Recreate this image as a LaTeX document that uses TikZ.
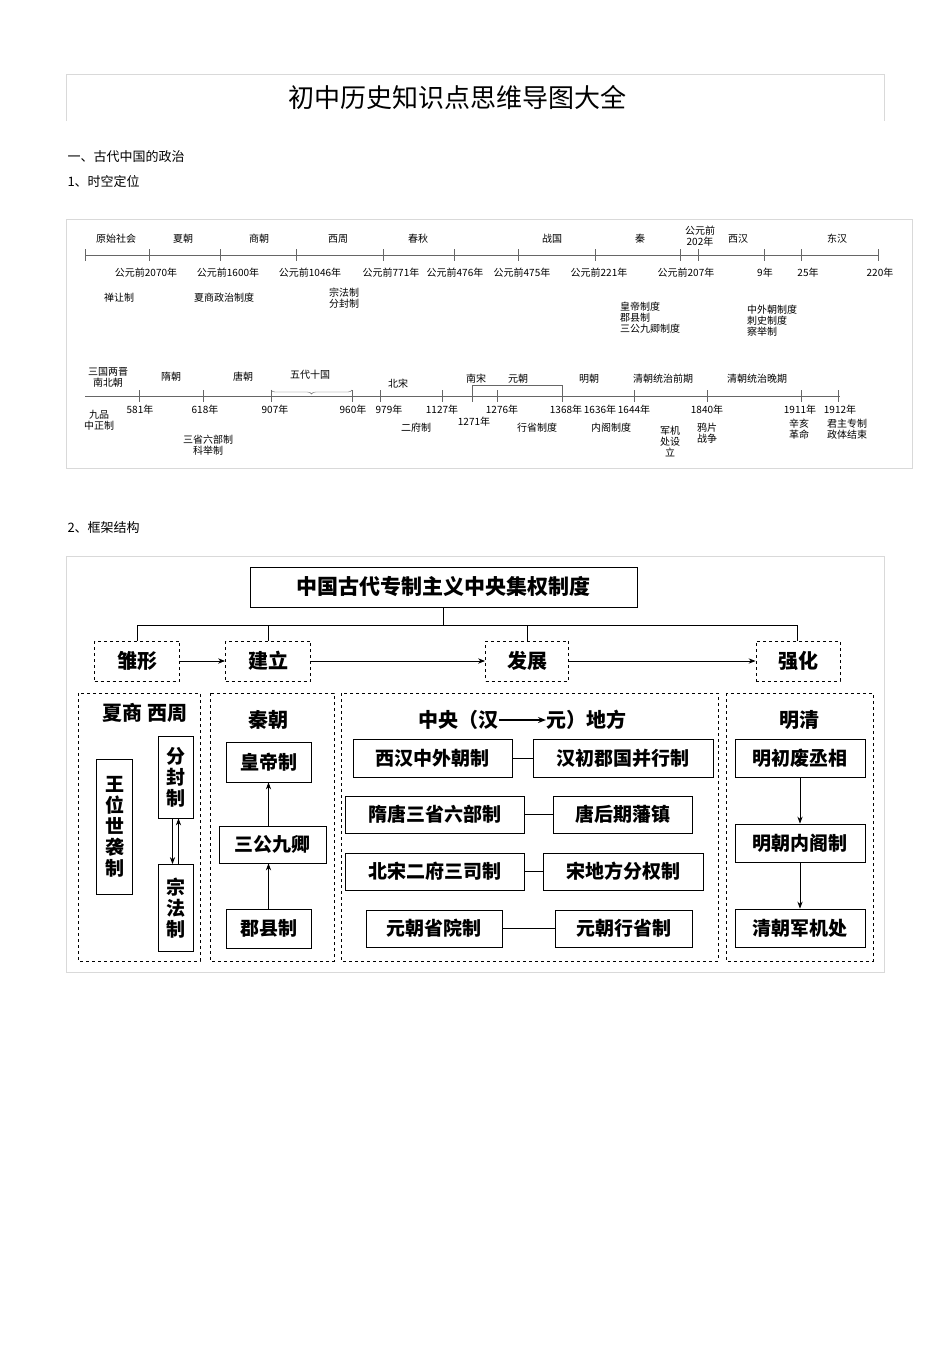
\documentclass[tikz,border=0pt]{standalone}
\usepackage{fontspec}
\setmainfont{Noto Sans CJK SC}
\usetikzlibrary{arrows.meta,decorations.pathreplacing}
\begin{document}
\begin{tikzpicture}[x=1pt,y=-1pt,
 tl/.style={font=\fontsize{10}{11}\selectfont,inner sep=0pt,align=center},
 tk/.style={draw=black!60},
 solidbox/.style={draw,thick,font=\fontsize{19}{21}\selectfont\bfseries,inner sep=2pt,align=center},
 dbox/.style={draw,thick,dashed},
 big/.style={font=\fontsize{20}{22}\selectfont\bfseries,inner sep=0pt},
 arr/.style={-{Stealth[length=7pt]},thick}]
\useasboundingbox (0,0) rectangle (950,1345);
\fill[white] (0,0) rectangle (950,1345);
% header
\draw[black!15] (66,121)--(66,74)--(884,74)--(884,121);
\node (title) at (457,97) {\fontsize{26}{28}\selectfont 初中历史知识点思维导图大全};
\node[anchor=west,font=\fontsize{13}{15}\selectfont] (s1) at (64,157) {一、古代中国的政治};
\node[anchor=west,font=\fontsize{13}{15}\selectfont] (s2) at (64,182) {1、时空定位};
\node[anchor=west,font=\fontsize{13}{15}\selectfont] (s3) at (64,528) {2、框架结构};
% timeline 1
\draw[black!15] (66,219) rectangle (912,468);
\draw[black!60] (85,255)--(878,255);
\foreach \x in {85,149,220,296,383,454,518,595,680,698,764,801,878}{\draw[tk] (\x,249)--(\x,261);}
\foreach \x/\t in {116/原始社会,183/夏朝,259/商朝,338/西周,418/春秋,552/战国,640/秦,738/西汉,837/东汉}{\node[tl] at (\x,239) {\t};}
\node[tl] at (700,236) {公元前\\202年};
\foreach \x/\t in {146/公元前2070年,228/公元前1600年,310/公元前1046年,391/公元前771年,455/公元前476年,522/公元前475年,599/公元前221年,686/公元前207年,765/9年,808/25年,880/220年}{\node[tl] at (\x,273) {\t};}
\node[tl] at (119,298) {禅让制};
\node[tl] at (224,298) {夏商政治制度};
\node[tl] at (344,298) {宗法制\\分封制};
\node[tl,align=left] at (650,318) {皇帝制度\\郡县制\\三公九卿制度};
\node[tl,align=left] at (772,321) {中外朝制度\\刺史制度\\察举制};
% timeline 2
\draw[black!60] (85,396)--(840,396);
\foreach \x in {139,203,271,352,380,442,472,497,562,634,707,801,838}{\draw[tk] (\x,390)--(\x,402);}
\draw[black!60,decorate,decoration={brace,amplitude=4pt}] (352,390)--(271,390);
\draw[black!60] (472,390)--(472,385)--(562,385)--(562,390);
\node[tl] at (108,377) {三国两晋\\南北朝};
\foreach \x/\t/\y in {171/隋朝/377,243/唐朝/377,310/五代十国/375,398/北宋/384,476/南宋/379,518/元朝/379,589/明朝/379,663/清朝统治前期/379,757/清朝统治晚期/379}{\node[tl] at (\x,\y) {\t};}
\foreach \x/\t in {140/581年,205/618年,275/907年,353/960年,389/979年,442/1127年,502/1276年,566/1368年,600/1636年,634/1644年,707/1840年,800/1911年,840/1912年}{\node[tl] at (\x,410) {\t};}
\node[tl] at (474,422) {1271年};
\node[tl] at (99,420) {九品\\中正制};
\node[tl] at (208,445) {三省六部制\\科举制};
\node[tl] at (416,428) {二府制};
\node[tl] at (537,428) {行省制度};
\node[tl] at (611,428) {内阁制度};
\node[tl] at (670,441) {军机\\处设\\立};
\node[tl] at (707,433) {鸦片\\战争};
\node[tl] at (799,429) {辛亥\\革命};
\node[tl] at (847,429) {君主专制\\政体结束};
% framework
\draw[black!15] (66,556) rectangle (884,972);
\node[draw,thick,minimum width=387pt,minimum height=40pt,font=\fontsize{21}{23}\selectfont\bfseries] (top) at (443.5,587) {中国古代专制主义中央集权制度};
\draw[thick] (top.south)--(443.5,625);
\draw[thick] (137,641)--(137,625)--(797,625)--(797,641);
\draw[thick] (268,625)--(268,641); \draw[thick] (527,625)--(527,641);
\node[dbox,big,minimum width=85pt,minimum height=40pt] (c1) at (137,661) {雏形};
\node[dbox,big,minimum width=85pt,minimum height=40pt] (c2) at (268,661) {建立};
\node[dbox,big,minimum width=83pt,minimum height=40pt] (c3) at (527,661) {发展};
\node[dbox,big,minimum width=84pt,minimum height=40pt] (c4) at (798,661) {强化};
\draw[arr] (c1)--(c2); \draw[arr] (c2)--(c3); \draw[arr] (c3)--(c4);
\draw[dbox] (78,693) rectangle (200,961);
\draw[dbox] (210,693) rectangle (334,961);
\draw[dbox] (341,693) rectangle (718,961);
\draw[dbox] (726,693) rectangle (873,961);
\node[big] at (145,713) {夏商\ 西周};
\node[solidbox,minimum width=36pt,minimum height=135pt] (wang) at (114.5,827) {王\\位\\世\\袭\\制};
\node[solidbox,minimum width=35pt,minimum height=82pt] (fen) at (175.5,777) {分\\封\\制};
\node[solidbox,minimum width=35pt,minimum height=87pt] (zong) at (175.5,908) {宗\\法\\制};
\draw[arr] ([xshift=-3pt]fen.south)--([xshift=-3pt]zong.north);
\draw[arr] ([xshift=3pt]zong.north)--([xshift=3pt]fen.south);
\node[big] at (268,720) {秦朝};
\node[solidbox,minimum width=85pt,minimum height=40pt] (hd) at (268.5,762) {皇帝制};
\node[solidbox,minimum width=107pt,minimum height=37pt] (sg) at (272.5,844.5) {三公九卿};
\node[solidbox,minimum width=85pt,minimum height=39pt] (jx) at (268.5,928.5) {郡县制};
\draw[arr] (sg.north -| hd)--(hd.south);
\draw[arr] (jx.north)--(jx.north |- sg.south);
\node[big,anchor=east] (zyl) at (499,720) {中央（汉};
\node[big,anchor=west] (zyr) at (546,720) {元）地方};
\draw[-{Stealth[length=8pt]},line width=1.4pt] (zyl.east)--(zyr.west);
\node[solidbox,minimum width=159pt,minimum height=38pt] (a1) at (432.5,758) {西汉中外朝制};
\node[solidbox,minimum width=180pt,minimum height=38pt] (a2) at (623,758) {汉初郡国并行制};
\node[solidbox,minimum width=179pt,minimum height=37pt] (b1) at (434.5,814.5) {隋唐三省六部制};
\node[solidbox,minimum width=139pt,minimum height=37pt] (b2) at (622.5,814.5) {唐后期藩镇};
\node[solidbox,minimum width=179pt,minimum height=37pt] (d1) at (434.5,871.5) {北宋二府三司制};
\node[solidbox,minimum width=160pt,minimum height=37pt] (d2) at (623,871.5) {宋地方分权制};
\node[solidbox,minimum width=136pt,minimum height=37pt] (e1) at (434,928.5) {元朝省院制};
\node[solidbox,minimum width=137pt,minimum height=37pt] (e2) at (623.5,928.5) {元朝行省制};
\draw[thick] (a1)--(a2); \draw[thick] (b1)--(b2); \draw[thick] (d1)--(d2); \draw[thick] (e1)--(e2);
\node[big] at (799,720) {明清};
\node[solidbox,minimum width=130pt,minimum height=38pt] (m1) at (800,758) {明初废丞相};
\node[solidbox,minimum width=130pt,minimum height=38pt] (m2) at (800,843) {明朝内阁制};
\node[solidbox,minimum width=130pt,minimum height=38pt] (m3) at (800,928) {清朝军机处};
\draw[arr] (m1)--(m2); \draw[arr] (m2)--(m3);
\end{tikzpicture}
\end{document}
